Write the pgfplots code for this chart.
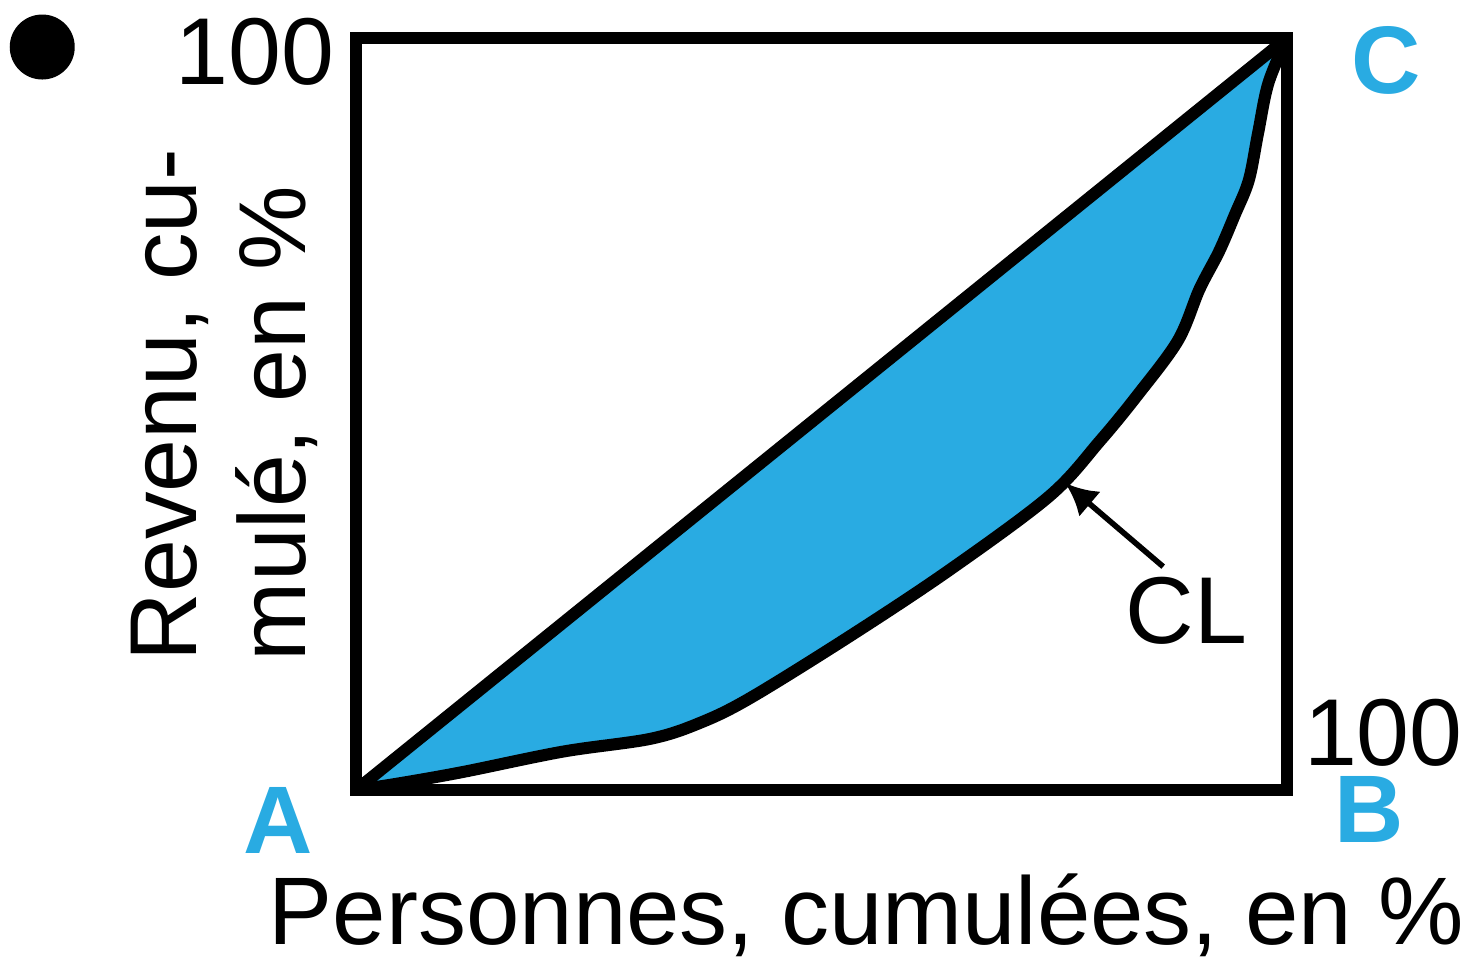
\documentclass[border=0pt]{standalone}
\usepackage{fontspec}
\setmainfont{Liberation Sans}
\usepackage{pgfplots}
\pgfplotsset{compat=1.18}
\usepgfplotslibrary{fillbetween}
\usetikzlibrary{arrows.meta,calc}
\definecolor{lcyan}{RGB}{41,171,226}
\newcommand{\bigt}{\fontsize{47.5}{56}\selectfont}
\newcommand{\bigb}{\fontsize{48}{56}\selectfont\bfseries}
\begin{document}
\begin{tikzpicture}
\begin{axis}[
  name=ax,
  scale only axis,
  width=465.5pt, height=376pt,
  xmin=0, xmax=100, ymin=0, ymax=100,
  xtick=\empty, ytick=\empty,
  axis line style={line width=6pt, line cap=rect, line join=miter},
  clip=false,
]
\addplot[name path=curve, line width=6pt, smooth, tension=0.55] coordinates {
(0,0) (4.7,0.9) (11.5,2.4) (22.2,5.1) (31.6,6.8) (36.9,8.9) (42.3,12.2)
(53.1,20.5) (63.8,29.3) (74.5,39.1) (79.9,46.4) (84.0,52.6)
(88.3,59.8) (90.6,66.6) (92.7,71.6) (94.4,76.5) (95.9,81.1) (96.9,87.4)
(98.0,94.0) (100,100)
};
\addplot[name path=diag, line width=6pt] coordinates {(0,0) (100,100)};
\addplot[lcyan] fill between[of=curve and diag];
\draw[-{Latex[length=16pt,width=16.5pt]}, line width=2.8pt] (axis cs:86.7,29.7) -- (axis cs:76.2,40.8);
\node[anchor=base west, inner sep=0] at (axis cs:82.6,19.5) {\bigt CL};
\node[anchor=base east, inner sep=0] at (axis cs:-2.3,93.75) {\bigt 100};
\node[anchor=base west, inner sep=0] at (axis cs:101.8,3.3) {\bigt 100};
\node[anchor=base, inner sep=0, text=lcyan] at (axis cs:-8.4,-8.4) {\bigb A};
\node[anchor=base, inner sep=0, text=lcyan] at (axis cs:108.8,-7.0) {\bigb B};
\node[anchor=base, inner sep=0, text=lcyan] at (axis cs:110.6,92.6) {\bigb C};
\node[anchor=base west, inner sep=0] at (axis cs:-9.4,-20.6) {\fontsize{48}{56}\selectfont Personnes, cumulées, en \%};
\node[anchor=base west, inner sep=0, rotate=90] at (axis cs:-17.1,17.1) {\bigt Revenu, cu-};
\node[anchor=base west, inner sep=0, rotate=90] at (axis cs:-5.4,17.1) {\bigt mulé, en \%};
\node[circle, fill=black, inner sep=0, minimum size=32.5pt] at (axis cs:-33.7,98.8) {};
\end{axis}
\pgfresetboundingbox
\path[use as bounding box] ($(ax.south west)+(-178pt,-84.5pt)$) rectangle ($(ax.north east)+(95pt,19pt)$);
\end{tikzpicture}
\end{document}
